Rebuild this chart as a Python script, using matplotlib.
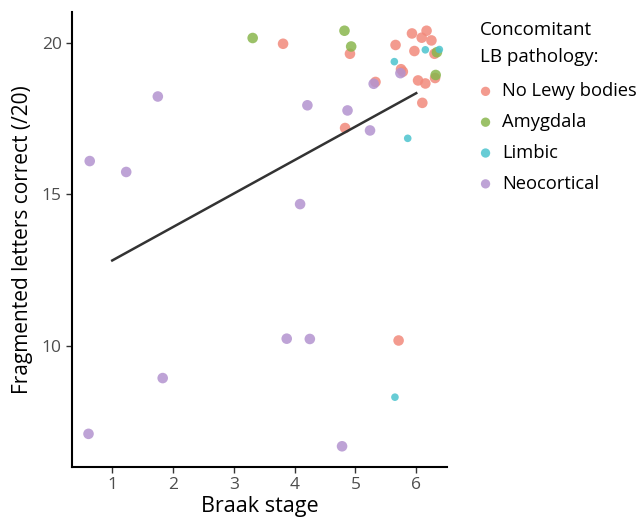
import matplotlib
matplotlib.use("Agg")
import matplotlib.pyplot as plt

plt.rcParams['font.family'] = ['Open Sans', 'DejaVu Sans']

groups = ["No Lewy bodies", "Amygdala", "Limbic", "Neocortical"]
colors = ["#F28A7C", "#8AB64E", "#4CC4CE", "#B393CF"]

none_x = [3.81, 4.91, 5.66, 5.93, 6.17, 6.09, 6.25, 5.97, 6.30, 6.31, 6.03, 6.15,
          6.10, 4.83, 5.33, 5.75, 5.78, 5.71]
none_y = [19.97, 19.64, 19.93, 20.31, 20.40, 20.17, 20.08, 19.73, 19.64, 18.84, 18.76, 18.66,
          18.02, 17.19, 18.71, 19.13, 19.05, 10.18]
amyg_x = [3.31, 4.82, 4.93, 6.34, 6.32]
amyg_y = [20.16, 20.40, 19.88, 19.69, 18.94]
limb_x = [5.64, 6.15, 6.38, 5.86, 5.65]
limb_y = [19.38, 19.77, 19.78, 16.85, 8.31]
neo_x = [0.63, 1.23, 1.75, 4.21, 4.87, 5.24, 4.09, 5.30, 5.74,
         0.61, 1.83, 3.87, 4.25, 4.78]
neo_y = [16.10, 15.74, 18.23, 17.94, 17.77, 17.11, 14.68, 18.65, 19.00,
         7.10, 8.94, 10.24, 10.23, 6.69]

fit_x = [1, 6]
fit_y = [12.82, 18.34]

fig = plt.figure(figsize=(6.38, 5.19), dpi=100)
ax = fig.add_axes([0.113, 0.101, 0.588, 0.876])

series = [(none_x, none_y), (amyg_x, amyg_y), (limb_x, limb_y), (neo_x, neo_y)]
sizes = [58, 58, 30, 58]
for (xs, ys), g, c, s in zip(series, groups, colors, sizes):
    ax.scatter(xs, ys, s=s, color=c, alpha=0.85, edgecolors='none', label=g)

ax.plot(fit_x, fit_y, color='#333333', linewidth=1.8)

ax.set_xlim(0.34, 6.51)
ax.set_ylim(6.02, 21.02)
ax.set_xticks([1, 2, 3, 4, 5, 6])
ax.set_yticks([10, 15, 20])
ax.tick_params(labelsize=12.5, labelcolor='#4D4D4D', color='#333333', length=4, width=1)
ax.set_xlabel('Braak stage', fontsize=15.5, labelpad=2)
ax.set_ylabel('Fragmented letters correct (/20)', fontsize=15, labelpad=6)

for spine in ['top', 'right']:
    ax.spines[spine].set_visible(False)
for spine in ['left', 'bottom']:
    ax.spines[spine].set_linewidth(1.5)

leg = ax.legend(title='Concomitant\nLB pathology:', loc='upper left',
                bbox_to_anchor=(1.063, 1.0), frameon=False, fontsize=13.2,
                title_fontsize=13.5, alignment='left', handlelength=0.6,
                handletextpad=0.6, labelspacing=0.70, borderaxespad=0.2,
                borderpad=0.3)
leg.get_title().set_linespacing(1.6)
leg._legend_box.sep = 12
for h in leg.legend_handles:
    h.set_sizes([45])

fig.savefig('out.png', dpi=100)
